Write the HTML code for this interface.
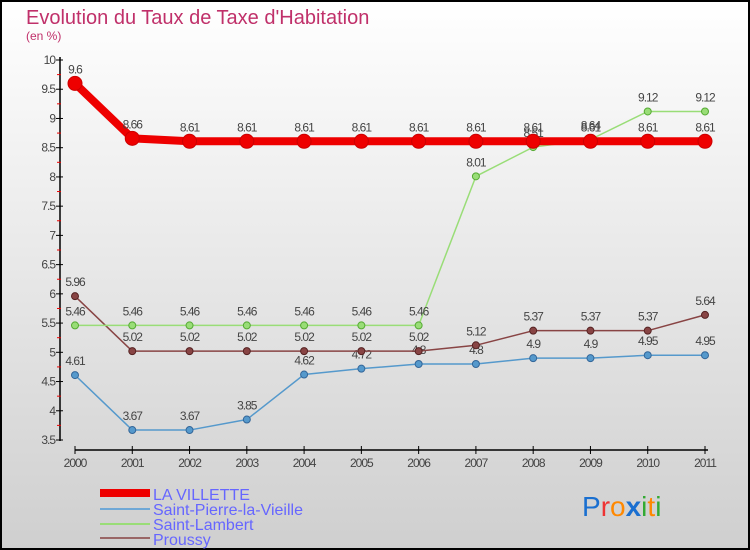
<!DOCTYPE html>
<html><head><meta charset="utf-8"><style>
body{margin:0}
svg{display:block;font-family:"Liberation Sans","DejaVu Sans",sans-serif}
</style></head><body>
<svg width="750" height="550" viewBox="0 0 750 550">
<defs><linearGradient id="bg" x1="0" y1="0" x2="0" y2="1"><stop offset="0" stop-color="#ffffff"/><stop offset="1" stop-color="#cfcfcf"/></linearGradient></defs>
<rect x="1" y="1" width="748" height="548" fill="url(#bg)" stroke="#000" stroke-width="2"/>
<text x="26" y="24" font-size="20" fill="#c0306a">Evolution du Taux de Taxe d'Habitation</text>
<text x="26" y="40" font-size="12" fill="#c0306a">(en %)</text>
<g id="axes"></g>
<g id="series"></g>
<g font-size="16" fill="#6666ff">
<rect x="100" y="489" width="50" height="8" fill="#e00"/>
<text x="153" y="500">LA VILLETTE</text>
<line x1="100" y1="509" x2="150" y2="509" stroke="#6fa8d6" stroke-width="2"/>
<text x="153" y="515">Saint-Pierre-la-Vieille</text>
<line x1="100" y1="524" x2="150" y2="524" stroke="#99dd77" stroke-width="2"/>
<text x="153" y="530">Saint-Lambert</text>
<line x1="100" y1="538" x2="150" y2="538" stroke="#996666" stroke-width="2"/>
<text x="153" y="545">Proussy</text>
</g>
<g font-size="28" font-family="'Liberation Sans',sans-serif">
<text x="582" y="516"><tspan fill="#1a6fd0">P</tspan><tspan fill="#e33">r</tspan><tspan fill="#f80">o</tspan><tspan fill="#1a6fd0" font-weight="bold">x</tspan><tspan fill="#3a3">i</tspan><tspan fill="#f80">t</tspan><tspan fill="#3a3">i</tspan></text>
</g>
</svg>
<script>
const years=["2000","2001","2002","2003","2004","2005","2006","2007","2008","2009","2010","2011"];
const yTicks=[3.5,4,4.5,5,5.5,6,6.5,7,7.5,8,8.5,9,9.5,10];
const villette=[9.6,8.66,8.61,8.61,8.61,8.61,8.61,8.61,8.61,8.61,8.61,8.61];
const saintPierre=[4.61,3.67,3.67,3.85,4.62,4.72,4.8,4.8,4.9,4.9,4.95,4.95];
const saintLambert=[5.46,5.46,5.46,5.46,5.46,5.46,5.46,8.01,8.51,8.64,9.12,9.12];
const proussy=[5.96,5.02,5.02,5.02,5.02,5.02,5.02,5.12,5.37,5.37,5.37,5.64];
const NS="http://www.w3.org/2000/svg";
const xs=i=>75+i*(630/11);
const ys=v=>60+(10-v)*(380/6.5);
function mk(tag,attrs,parent){const e=document.createElementNS(NS,tag);for(const k in attrs)e.setAttribute(k,attrs[k]);parent.appendChild(e);return e;}
const axes=document.getElementById('axes'),ser=document.getElementById('series');
let a=mk('line',{x1:60,y1:57,x2:60,y2:441,stroke:'#000','stroke-width':1.5},axes);


a=mk('line',{x1:75,y1:450,x2:708,y2:450,stroke:'#000','stroke-width':1.5},axes);


yTicks.forEach((t,i)=>{
  const y=ys(t);
  mk('line',{x1:56,y1:y,x2:63,y2:y,stroke:'#000'},axes);
  if(i<yTicks.length-1)mk('line',{x1:57,y1:ys(t+0.25),x2:61,y2:ys(t+0.25),stroke:'#e00'},axes);
  const tx=mk('text',{x:55,y:y+4,'text-anchor':'end','font-size':12,fill:'#444','letter-spacing':'-1'},axes);
  tx.textContent=String(t);
  
  
});
years.forEach((yr,i)=>{
  const x=xs(i);
  mk('line',{x1:x,y1:446,x2:x,y2:454,stroke:'#000'},axes);
  const tx=mk('text',{x:x,y:467,'text-anchor':'middle','font-size':12,fill:'#444','letter-spacing':'-1'},axes);
  tx.textContent=yr;
  
  
});
function draw(vals,color,w,r,name,dark){
  const g=mk('g',{},ser);
  
  
  const pl=mk('polyline',{points:vals.map((v,i)=>xs(i)+','+ys(v)).join(' '),fill:'none',stroke:color,'stroke-width':w,'stroke-linejoin':'round'},g);
  
  
  vals.forEach((v,i)=>{
    const c=mk('circle',{cx:xs(i),cy:ys(v),r:r,fill:color,stroke:dark,'stroke-width':1},g);
    
    
    const t=mk('text',{x:xs(i),y:ys(v)-10,'text-anchor':'middle','font-size':12,fill:'#444','letter-spacing':'-1'},g);
    t.textContent=String(v);
    
    
  });
}
draw(saintPierre,'#5599cc',1.5,3.5,'saint-pierre','#336699');
draw(proussy,'#884444',1.5,3.5,'proussy','#552222');
draw(saintLambert,'#99dd77',1.5,3.5,'saint-lambert','#55aa33');
draw(villette,'#e00',8,7,'la-villette','#c00');
</script>
</body></html>
